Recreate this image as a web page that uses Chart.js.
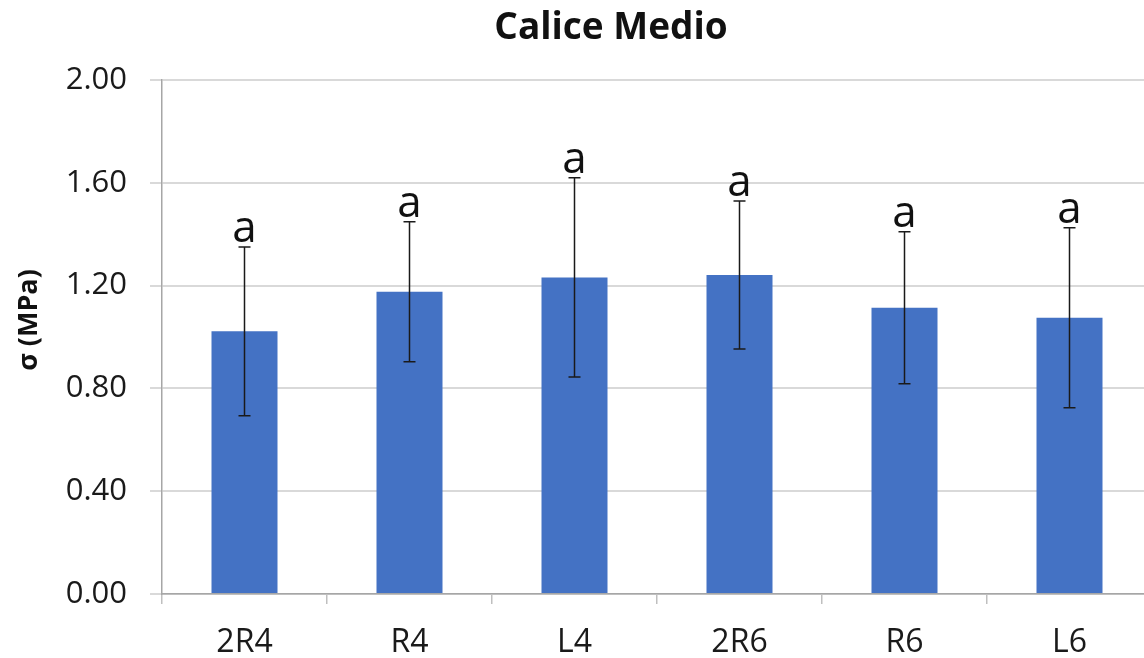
<!DOCTYPE html>
<html>
<head>
<meta charset="utf-8">
<script src="https://cdn.jsdelivr.net/npm/chart.js@4"></script>
<style>
    body { margin: 0; background: #fff; overflow: hidden; }
</style>
</head>
<body>
<canvas id="caliceChart" width="1155" height="658"></canvas>
<script>
const categories = ['2R4', 'R4', 'L4', '2R6', 'R6', 'L6'];
const means = [1.022, 1.176, 1.232, 1.241, 1.114, 1.075];
const stdDevs = [0.328, 0.272, 0.388, 0.288, 0.296, 0.350];
const letters = ['a', 'a', 'a', 'a', 'a', 'a'];
const yTicks = [0, 0.4, 0.8, 1.2, 1.6, 2.0];

Chart.defaults.font.family = "'Open Sans', sans-serif";
Chart.defaults.color = '#1a1a1a';

// error bars + significance letters
const errorBars = {
    id: 'errorBars',
    afterDatasetsDraw(chart) {
        const ctx = chart.ctx;
        const y = chart.scales.y;
        const meta = chart.getDatasetMeta(0);
        ctx.save();
        ctx.strokeStyle = '#1a1a1a';
        ctx.lineWidth = 1.5;
        meta.data.forEach((bar, i) => {
            const top = y.getPixelForValue(means[i] + stdDevs[i]);
            const bot = y.getPixelForValue(means[i] - stdDevs[i]);
            ctx.beginPath();
            ctx.moveTo(bar.x, top); ctx.lineTo(bar.x, bot);
            ctx.moveTo(bar.x - 6, top); ctx.lineTo(bar.x + 6, top);
            ctx.moveTo(bar.x - 6, bot); ctx.lineTo(bar.x + 6, bot);
            ctx.stroke();
            ctx.fillStyle = '#111';
            ctx.font = "44px 'Open Sans'";
            ctx.textAlign = 'center';
            ctx.textBaseline = 'alphabetic';
            ctx.fillText(letters[i], bar.x, top - 5);
        });
        ctx.restore();
    }
};

// chart title and y axis title at their own spots
const titles = {
    id: 'titles',
    afterDraw(chart) {
        const ctx = chart.ctx;
        ctx.save();
        ctx.fillStyle = '#111';
        ctx.font = "bold 37px 'Open Sans'";
        ctx.textAlign = 'center';
        ctx.textBaseline = 'alphabetic';
        ctx.fillText('Calice Medio', 611, 39);
        ctx.translate(29, 320);
        ctx.rotate(-Math.PI / 2);
        ctx.font = "bold 27px 'Open Sans'";
        ctx.textBaseline = 'middle';
        ctx.fillText('σ (MPa)', 0, 0);
        ctx.restore();
    }
};

new Chart(document.getElementById('caliceChart'), {
    type: 'bar',
    data: {
        labels: categories,
        datasets: [{
            data: means,
            backgroundColor: '#4472C4',
            barPercentage: 0.4,
            categoryPercentage: 1.0
        }]
    },
    options: {
        responsive: false,
        animation: false,
        layout: { padding: { top: 80, right: 3, left: 0, bottom: 0 } },
        scales: {
            x: {
                afterFit: (s) => { s.height = 64; },
                grid: { drawOnChartArea: false, drawTicks: true, tickLength: 10, color: '#bfbfbf', lineWidth: 1.5 },
                border: { color: '#a6a6a6', width: 1.5 },
                ticks: { font: { size: 32 }, padding: 20, color: '#1a1a1a' }
            },
            y: {
                min: 0,
                max: 2,
                afterFit: (s) => { s.width = 162; },
                afterBuildTicks: (s) => { s.ticks = yTicks.map(v => ({ value: v })); },
                grid: { color: '#d9d9d9', lineWidth: 2, tickLength: 12 },
                border: { color: '#a6a6a6', width: 1.5 },
                ticks: {
                    font: { size: 31 },
                    padding: 23,
                    color: '#1a1a1a',
                    callback: (v) => Number(v).toFixed(2)
                }
            }
        },
        plugins: {
            legend: { display: false },
            tooltip: { enabled: false }
        }
    },
    plugins: [errorBars, titles]
});
</script>
</body>
</html>
